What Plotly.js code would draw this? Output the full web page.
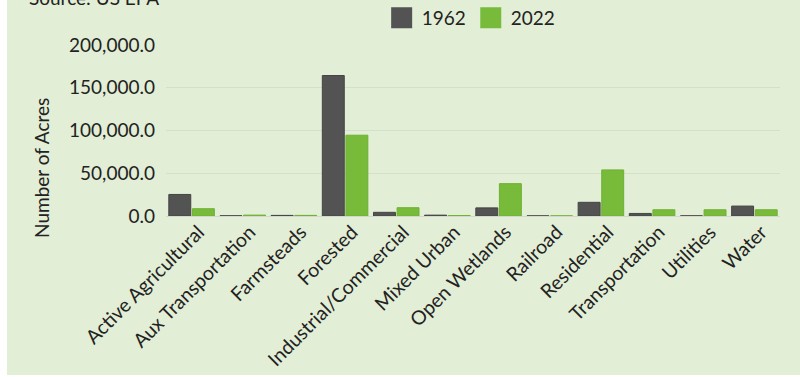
<!DOCTYPE html>
<html>
<head>
<meta charset="utf-8">
<script src="https://cdn.plot.ly/plotly-3.0.1.min.js"></script>
<style>
  html, body { margin: 0; padding: 0; background: #ffffff; }
  #chart { position: absolute; left: 7px; top: 0; width: 793px; height: 375px; }
</style>
</head>
<body>
<div id="chart"></div>
<script>
const categories = ['Active Agricultural', 'Aux Transportation', 'Farmsteads', 'Forested',
  'Industrial/Commercial', 'Mixed Urban', 'Open Wetlands', 'Railroad', 'Residential',
  'Transportation', 'Utilities', 'Water'];
const acres1962 = [25200, 250, 700, 164300, 4300, 1000, 9500, 150, 16000, 3000, 200, 11600];
const acres2022 = [8500, 1000, 700, 94500, 9700, 500, 37800, 150, 53900, 7300, 7300, 7300];
const seriesNames = ['1962', '2022'];
const yTicks = [0, 50000, 100000, 150000, 200000];

const colors = ['#535353', '#78bb3b'];
const lineColors = ['#444444', '#6fb033'];
const font = 'Lato, "Noto Sans", "DejaVu Sans", sans-serif';

const traces = [
  { type: 'bar', name: seriesNames[0], x: categories, y: acres1962, legendgroup: 'a', showlegend: false,
    marker: { color: colors[0], line: { color: lineColors[0], width: 1 } }, hoverinfo: 'x+y+name' },
  { type: 'bar', name: seriesNames[1], x: categories, y: acres2022, legendgroup: 'b', showlegend: false,
    marker: { color: colors[1], line: { color: lineColors[1], width: 1 } }, hoverinfo: 'x+y+name' },
  { type: 'scatter', mode: 'markers', name: seriesNames[0], x: [null], y: [null], legendgroup: 'a',
    marker: { symbol: 'square', size: 16, color: colors[0], line: { color: colors[0], width: 5 } } },
  { type: 'scatter', mode: 'markers', name: seriesNames[1], x: [null], y: [null], legendgroup: 'b',
    marker: { symbol: 'square', size: 16, color: colors[1], line: { color: colors[1], width: 5 } } }
];

const layout = {
  width: 793, height: 375,
  margin: { l: 159, r: 20, t: 45, b: 159, pad: 0, autoexpand: false },
  paper_bgcolor: '#e2eed6',
  plot_bgcolor: '#e2eed6',
  font: { family: font, color: '#222222', size: 19 },
  barmode: 'group',
  bargap: 0.078,
  bargroupgap: 0.07,
  showlegend: true,
  legend: {
    orientation: 'h', x: 0.497, xanchor: 'center', y: 1.158, yanchor: 'middle',
    font: { family: font, size: 19, color: '#222222' }, bgcolor: 'rgba(0,0,0,0)',
    itemwidth: 30, traceorder: 'normal'
  },
  xaxis: {
    type: 'category',
    tickangle: -45,
    tickfont: { family: font, size: 19.5, color: '#222222' },
    ticklabelshift: 7,
    ticklabelstandoff: 0,
    showgrid: false, zeroline: false, showline: false, ticks: ''
  },
  yaxis: {
    range: [0, 200000],
    tickvals: yTicks,
    tickformat: ',.1f',
    tickfont: { family: font, size: 19, color: '#222222' },
    ticklabelstandoff: 10,
    showgrid: true, gridcolor: '#d3e1c6', gridwidth: 1,
    zeroline: true, zerolinecolor: '#d3d9cc', zerolinewidth: 1,
    showline: false, ticks: ''
  },
  annotations: [
    { text: 'Number of Acres', xref: 'paper', yref: 'paper', x: -0.202, y: 0.281,
      xanchor: 'center', yanchor: 'middle', textangle: -90, showarrow: false,
      font: { family: font, size: 19, color: '#222222' } },
    { text: 'Source: US EPA', xref: 'paper', yref: 'paper', x: -0.226, y: 1.275,
      xanchor: 'left', yanchor: 'middle', showarrow: false,
      font: { family: font, size: 19, color: '#222222' } }
  ]
};

Plotly.newPlot('chart', traces, layout, { displayModeBar: false, staticPlot: true });
</script>
</body>
</html>
